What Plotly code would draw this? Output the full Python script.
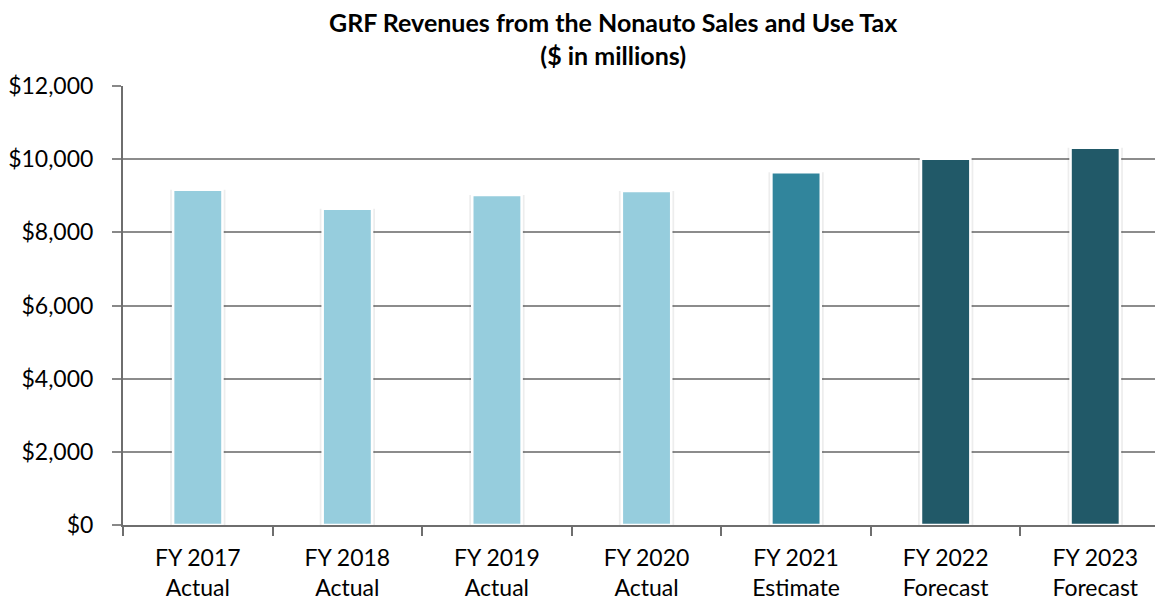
import plotly.graph_objects as go

categories = ["FY 2017<br>Actual", "FY 2018<br>Actual", "FY 2019<br>Actual", "FY 2020<br>Actual",
              "FY 2021<br>Estimate", "FY 2022<br>Forecast", "FY 2023<br>Forecast"]
revenues = [9165, 8646, 9020, 9128, 9640, 10010, 10310]
tick_values = [0, 2000, 4000, 6000, 8000, 10000, 12000]
tick_labels = ["$0", "$2,000", "$4,000", "$6,000", "$8,000", "$10,000", "$12,000"]
title_text = "<b>GRF Revenues from the Nonauto Sales and Use Tax<br>($ in millions)</b>"

bar_colors = ["#96CDDD"] * 4 + ["#31859C", "#215968", "#215968"]

fig = go.Figure()
# soft shadow behind bars
fig.add_trace(go.Bar(x=categories, y=revenues, width=0.37,
                     marker=dict(color="rgba(0,0,0,0.07)", line=dict(width=0)),
                     hoverinfo="skip", showlegend=False))
fig.add_trace(go.Bar(x=categories, y=revenues, width=0.33,
                     marker=dict(color=bar_colors, line=dict(color="white", width=2.5)),
                     showlegend=False))

font_family = "Lato, Calibri, Carlito, sans-serif"
fig.update_layout(
    width=1155, height=595,
    margin=dict(l=112, r=0, t=78, b=78),
    paper_bgcolor="white", plot_bgcolor="white",
    barmode="overlay",
    font=dict(family=font_family, color="black"),
)
fig.add_annotation(
    text=title_text, xref="paper", yref="paper",
    x=(603 - 112) / 1043, xanchor="center",
    y=(517 - 30) / 439, yanchor="middle",
    showarrow=False, align="center",
    font=dict(family=font_family, size=25, color="black"),
)
fig.update_xaxes(
    range=[-0.5, 6.453],
    showline=True, linecolor="#6e6e6e", linewidth=2,
    ticks="outside", tickson="boundaries", ticklen=9, tickcolor="#6e6e6e", tickwidth=2,
    tickfont=dict(size=23, family=font_family, color="black"),
    ticklabelstandoff=11,
    showgrid=False,
)
fig.update_yaxes(
    range=[0, 12000],
    tickvals=tick_values, ticktext=tick_labels,
    showline=True, linecolor="#6e6e6e", linewidth=2,
    ticks="outside", ticklen=9, tickcolor="#888888", tickwidth=2,
    tickfont=dict(size=23, family=font_family, color="black"),
    ticklabelstandoff=14,
    showgrid=True, gridcolor="#8c8c8c", gridwidth=2,
    zeroline=False,
)

fig.write_html("out.html")
